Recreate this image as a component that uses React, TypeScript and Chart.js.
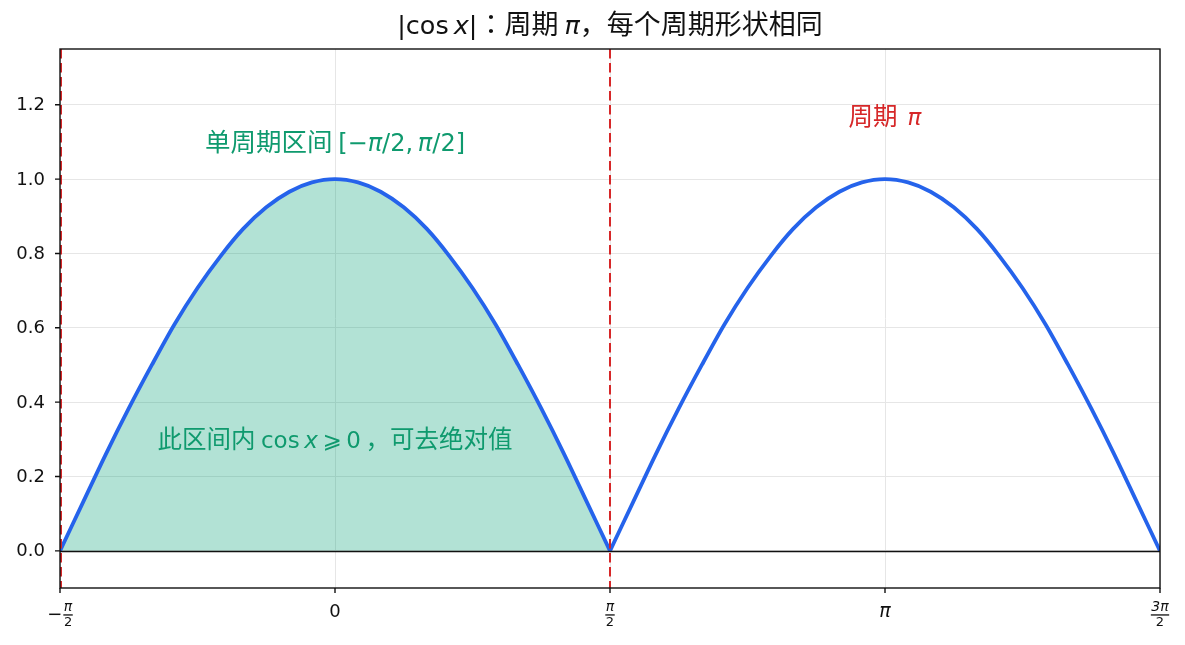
import { useEffect, useRef } from 'react';
import { Chart, registerables } from 'chart.js';

Chart.register(...registerables);

// x in units of π
const xPeriod1 = [
  -0.5, -0.458, -0.417, -0.375, -0.333, -0.292, -0.25, -0.208, -0.167, -0.125, -0.083, -0.042, 0,
  0.042, 0.083, 0.125, 0.167, 0.208, 0.25, 0.292, 0.333, 0.375, 0.417, 0.458, 0.5,
];
const absCos1 = [
  0, 0.131, 0.259, 0.383, 0.5, 0.609, 0.707, 0.793, 0.866, 0.924, 0.966, 0.991, 1,
  0.991, 0.966, 0.924, 0.866, 0.793, 0.707, 0.609, 0.5, 0.383, 0.259, 0.131, 0,
];
const xPeriod2 = [
  0.5, 0.542, 0.583, 0.625, 0.667, 0.708, 0.75, 0.792, 0.833, 0.875, 0.917, 0.958, 1,
  1.042, 1.083, 1.125, 1.167, 1.208, 1.25, 1.292, 1.333, 1.375, 1.417, 1.458, 1.5,
];
const absCos2 = [
  0, 0.131, 0.259, 0.383, 0.5, 0.609, 0.707, 0.793, 0.866, 0.924, 0.966, 0.991, 1,
  0.991, 0.966, 0.924, 0.866, 0.793, 0.707, 0.609, 0.5, 0.383, 0.259, 0.131, 0,
];

const xTicks = [-0.5, 0, 0.5, 1, 1.5];
// [sign, numerator, denominator]; empty denominator -> plain label
const xTickLabels: [string, string, string][] = [
  ['−', 'π', '2'],
  ['', '0', ''],
  ['', 'π', '2'],
  ['', 'π', ''],
  ['', '3π', '2'],
];
const yTicks = [0, 0.2, 0.4, 0.6, 0.8, 1.0, 1.2];
const yTickLabels = ['0.0', '0.2', '0.4', '0.6', '0.8', '1.0', '1.2'];
const periodMarks = [-0.5, 0.5];

const CJK = '"Noto Sans CJK SC", "Noto Sans", sans-serif';
const PUNCT = '"Noto Sans CJK JP", "Noto Sans CJK SC", sans-serif';
const MATH = '"DejaVu Sans", sans-serif';
const green = '#0f9a6e';
const red = '#d62728';

type Run = { t: string; f: string };

// runs share one alphabetic baseline, centred on cx
function drawRuns(ctx: CanvasRenderingContext2D, runs: Run[], cx: number, baseline: number, color: string) {
  ctx.save();
  ctx.fillStyle = color;
  ctx.textBaseline = 'alphabetic';
  ctx.textAlign = 'left';
  let total = 0;
  const widths = runs.map((r) => {
    ctx.font = r.f;
    const w = ctx.measureText(r.t).width;
    total += w;
    return w;
  });
  let x = cx - total / 2;
  runs.forEach((r, i) => {
    ctx.font = r.f;
    ctx.fillText(r.t, x, baseline);
    x += widths[i];
  });
  ctx.restore();
}

const decorPlugin = {
  id: 'decor',
  afterDatasetsDraw(chart: Chart) {
    const { ctx, chartArea } = chart;
    const xs = chart.scales.x;
    const ys = chart.scales.y;
    ctx.save();
    // zero line
    const y0 = Math.round(ys.getPixelForValue(0)) + 0.5;
    ctx.strokeStyle = '#111';
    ctx.lineWidth = 1.3;
    ctx.beginPath();
    ctx.moveTo(chartArea.left, y0);
    ctx.lineTo(chartArea.right, y0);
    ctx.stroke();
    // period boundaries
    ctx.strokeStyle = red;
    ctx.lineWidth = 2;
    ctx.setLineDash([9.5, 4.5]);
    periodMarks.forEach((v) => {
      const px = xs.getPixelForValue(v) + (v === -0.5 ? 1 : 0);
      ctx.beginPath();
      ctx.moveTo(px, chartArea.top);
      ctx.lineTo(px, chartArea.bottom);
      ctx.stroke();
    });
    ctx.restore();
  },
  afterDraw(chart: Chart) {
    const { ctx, chartArea } = chart;
    const xs = chart.scales.x;
    const ys = chart.scales.y;
    ctx.save();
    // frame
    ctx.strokeStyle = '#111';
    ctx.lineWidth = 1.4;
    ctx.strokeRect(chartArea.left, chartArea.top, chartArea.right - chartArea.left, chartArea.bottom - chartArea.top);
    // ticks
    ctx.beginPath();
    yTicks.forEach((v) => {
      const py = ys.getPixelForValue(v);
      ctx.moveTo(chartArea.left - 5, py);
      ctx.lineTo(chartArea.left, py);
    });
    xTicks.forEach((v) => {
      const px = xs.getPixelForValue(v);
      ctx.moveTo(px, chartArea.bottom);
      ctx.lineTo(px, chartArea.bottom + 5);
    });
    ctx.stroke();
    // y labels
    ctx.fillStyle = '#111';
    ctx.font = `18px ${MATH}`;
    ctx.textAlign = 'right';
    ctx.textBaseline = 'middle';
    yTicks.forEach((v, i) => {
      ctx.fillText(yTickLabels[i], chartArea.left - 15, ys.getPixelForValue(v) + 1);
    });
    // x labels
    xTicks.forEach((v, i) => {
      const px = xs.getPixelForValue(v);
      const [sign, num, den] = xTickLabels[i];
      ctx.textBaseline = 'middle';
      if (!den) {
        ctx.textAlign = 'center';
        ctx.font = num === '0' ? `18px ${MATH}` : `italic 19px ${MATH}`;
        ctx.fillText(num, px, chartArea.bottom + 24);
        return;
      }
      ctx.font = `italic 14px ${MATH}`;
      const nw = ctx.measureText(num).width;
      ctx.font = `13px ${MATH}`;
      const bw = Math.max(nw, ctx.measureText(den).width) + 1;
      ctx.font = `18px ${MATH}`;
      const sw = sign ? ctx.measureText(sign).width + 1 : 0;
      const left = px - (sw + bw) / 2;
      const fc = left + sw + bw / 2;
      if (sign) {
        ctx.textAlign = 'left';
        ctx.fillText(sign, left, chartArea.bottom + 27);
      }
      ctx.textAlign = 'center';
      ctx.font = `italic 14px ${MATH}`;
      ctx.fillText(num, fc, chartArea.bottom + 19);
      ctx.font = `13px ${MATH}`;
      ctx.fillText(den, fc, chartArea.bottom + 35);
      ctx.fillRect(fc - bw / 2, chartArea.bottom + 26.3, bw, 1.3);
    });
    ctx.restore();

    // title
    const midX = (chartArea.left + chartArea.right) / 2;
    drawRuns(ctx, [
      { t: '|cos', f: `25.5px ${MATH}` },
      { t: '\u2009', f: `25.5px ${MATH}` },
      { t: 'x', f: `italic 25.5px ${MATH}` },
      { t: '|', f: `25.5px ${MATH}` },
      { t: '：', f: `27px ${PUNCT}` },
      { t: '周期 ', f: `27px ${CJK}` },
      { t: 'π', f: `italic 25.5px ${MATH}` },
      { t: '，', f: `27px ${PUNCT}` },
      { t: '每个周期形状相同', f: `27px ${CJK}` },
    ], midX, 34, '#111');

    // annotations
    const cx0 = xs.getPixelForValue(0);
    drawRuns(ctx, [
      { t: '单周期区间 ', f: `25.5px ${CJK}` },
      { t: '[−', f: `24px ${MATH}` },
      { t: 'π', f: `italic 24px ${MATH}` },
      { t: '/2,\u2009', f: `24px ${MATH}` },
      { t: 'π', f: `italic 24px ${MATH}` },
      { t: '/2]', f: `24px ${MATH}` },
    ], cx0, ys.getPixelForValue(1.1) + 9, green);
    drawRuns(ctx, [
      { t: '此区间内 ', f: `24.5px ${CJK}` },
      { t: 'cos\u2009', f: `23px ${MATH}` },
      { t: 'x', f: `italic 23px ${MATH}` },
      { t: '\u2009⩾\u20090', f: `23px ${MATH}` },
      { t: '\u2009', f: `23px ${MATH}` },
      { t: '，', f: `24.5px ${PUNCT}` },
      { t: '可去绝对值', f: `24.5px ${CJK}` },
    ], cx0, ys.getPixelForValue(0.3) + 9, green);
    drawRuns(ctx, [
      { t: '周期 ', f: `24.5px ${CJK}` },
      { t: '\u2009', f: `23px ${MATH}` },
      { t: 'π', f: `italic 23px ${MATH}` },
    ], xs.getPixelForValue(1), ys.getPixelForValue(1.17) + 9, red);
  },
};

export default function App(): JSX.Element {
  const canvasRef = useRef<HTMLCanvasElement | null>(null);

  useEffect(() => {
    const canvas = canvasRef.current;
    if (!canvas) return;
    const chart = new Chart(canvas, {
      type: 'line',
      data: {
        datasets: [
          {
            label: '|cos x| 第一周期',
            data: xPeriod1.map((x, i) => ({ x, y: absCos1[i] })),
            borderColor: '#2563eb',
            borderWidth: 3.8,
            backgroundColor: 'rgba(0,158,115,0.3)',
            fill: 'origin',
            pointRadius: 0,
            tension: 0.3,
          },
          {
            label: '|cos x| 第二周期',
            data: xPeriod2.map((x, i) => ({ x, y: absCos2[i] })),
            borderColor: '#2563eb',
            borderWidth: 3.8,
            fill: false,
            pointRadius: 0,
            tension: 0.3,
          },
        ],
      },
      options: {
        responsive: true,
        maintainAspectRatio: false,
        animation: false,
        layout: { padding: { left: 60, right: 25, top: 49, bottom: 57 } },
        plugins: { legend: { display: false }, tooltip: { enabled: false } },
        scales: {
          x: {
            type: 'linear',
            min: -0.5,
            max: 1.5,
            afterBuildTicks: (scale) => {
              scale.ticks = xTicks.map((value) => ({ value }));
            },
            ticks: { display: false },
            border: { display: false },
            grid: { color: '#e6e6e6', lineWidth: 1, drawTicks: false },
          },
          y: {
            type: 'linear',
            min: -0.1,
            max: 1.35,
            afterBuildTicks: (scale) => {
              scale.ticks = yTicks.map((value) => ({ value }));
            },
            ticks: { display: false },
            border: { display: false },
            grid: { color: '#e6e6e6', lineWidth: 1, drawTicks: false },
          },
        },
      },
      plugins: [decorPlugin],
    });
    return () => chart.destroy();
  }, []);

  return (
    <div style={{ position: 'absolute', left: 0, top: 0, width: 1185, height: 645, background: '#fff' }}>
      <canvas ref={canvasRef} />
    </div>
  );
}
